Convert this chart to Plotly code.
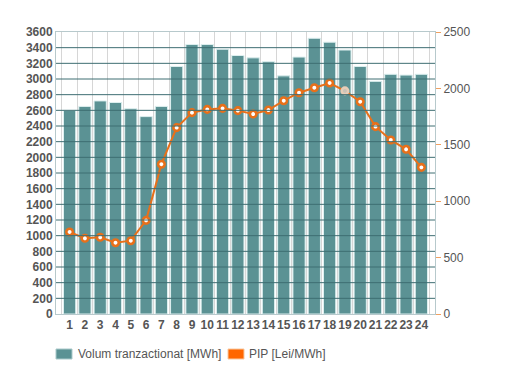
import plotly.graph_objects as go

hours = [str(h) for h in range(1, 25)]
volum = [2600, 2650, 2720, 2700, 2620, 2520, 2650, 3160, 3440, 3440, 3380, 3300,
         3270, 3220, 3040, 3280, 3520, 3470, 3370, 3160, 2970, 3060, 3050, 3060]
pip = [727, 671, 680, 632, 650, 830, 1328, 1652, 1785, 1814, 1823, 1803,
       1773, 1808, 1891, 1962, 2006, 2048, 1978, 1882, 1661, 1543, 1460, 1300]

left_ticks = list(range(0, 3601, 200))
right_ticks = list(range(0, 2501, 500))
legend_names = ["Volum tranzactionat [MWh]", "PIP [Lei/MWh]"]

BAR = "#5B9294"
ORANGE = "#E8701A"
GRID = "#3E6E72"
BORDER = "#B7C9CC"
TXT = "#555555"

OFF = 8  # page body margin
W, H = 527 - 2 * OFF, 372 - 2 * OFF
ML, MT = 56 - OFF, 32 - OFF
MR = W - (435 - OFF)
MB = H - (314 - OFF)
PW, PH = W - ML - MR, H - MT - MB
XPAD = 0.39

fig = go.Figure()
fig.add_trace(go.Bar(
    x=hours, y=volum, name=legend_names[0], showlegend=False,
    marker=dict(color=BAR, line=dict(color="#DDEFEF", width=1)),
    yaxis="y",
))
mk_fill = ["#FFFFFF"] * 24
mk_line = [ORANGE] * 24
mk_fill[18] = "#C9C3B8"
mk_line[18] = "#E6CDB8"
fig.add_trace(go.Scatter(
    x=hours, y=pip, name=legend_names[1], showlegend=False,
    mode="lines+markers",
    line=dict(color=ORANGE, width=2),
    marker=dict(symbol="circle", size=6.5, color=mk_fill,
                line=dict(color=mk_line, width=2.6)),
    yaxis="y2",
))

shapes = []
for v in left_ticks[1:-1]:
    shapes.append(dict(type="line", xref="paper", x0=0, x1=1, yref="y", y0=v, y1=v,
                       line=dict(color=GRID, width=1), layer="above"))

def px_x(p):
    return (p - OFF - ML) / PW

def px_y(p):
    return (H - MB - (p - OFF)) / PH

# manual legend (page pixel positions)
annotations = []
leg = [(56, 76, "#5B9294", "#A9C9CA", legend_names[0]),
       (228, 247, "#FF6600", "#F8C8A0", legend_names[1])]
for sx, tx, fc, lc, name in leg:
    shapes.append(dict(type="rect", xref="paper", yref="paper",
                       x0=px_x(sx), x1=px_x(sx + 16), y0=px_y(359), y1=px_y(349),
                       fillcolor=fc, line=dict(color=lc, width=1), layer="above"))
    annotations.append(dict(xref="paper", yref="paper", x=px_x(tx), y=px_y(354),
                            xanchor="left", yanchor="middle", showarrow=False,
                            text=name, font=dict(size=12, color=TXT)))

fig.update_layout(
    width=W, height=H,
    margin=dict(l=ML, r=MR, t=MT, b=MB),
    paper_bgcolor="white", plot_bgcolor="white",
    bargap=0.2, showlegend=False,
    font=dict(family="Liberation Sans, Arial, sans-serif", size=12, color=TXT),
    xaxis=dict(type="category", tickson="boundaries", showgrid=True,
               range=[-0.5 - XPAD, len(hours) - 0.5 + XPAD],
               gridcolor="#D6D6D6", gridwidth=1, automargin=False, tickangle=0,
               showline=True, linecolor=BORDER, mirror=True,
               ticks="", tickfont=dict(size=12, color=TXT, weight="bold")),
    yaxis=dict(range=[0, 3600], tickvals=left_ticks, showgrid=False, automargin=False,
               showline=True, linecolor=BORDER, mirror=True, zeroline=False,
               ticks="", tickfont=dict(size=12, color=TXT, weight="bold")),
    yaxis2=dict(range=[0, 2500], tickvals=right_ticks, overlaying="y", side="right",
                showgrid=False, zeroline=False, showline=False, automargin=False,
                ticks="outside", ticklen=5, tickcolor="#F0A060", tickwidth=1,
                tickfont=dict(size=12, color=TXT)),
    shapes=shapes,
    annotations=annotations,
)

fig.write_html("out.html")
